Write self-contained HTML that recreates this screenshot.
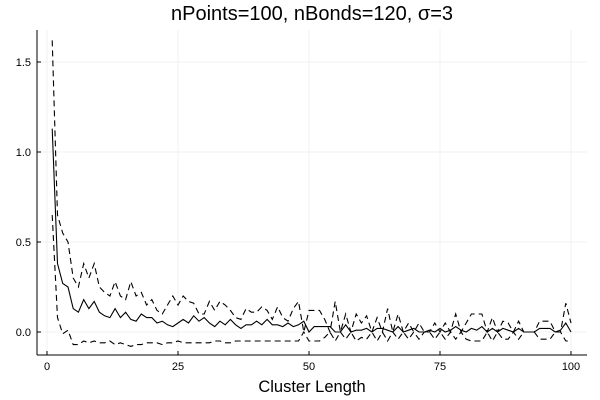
<!DOCTYPE html>
<html><head><meta charset="utf-8"><style>
body{margin:0;background:#fff;width:600px;height:400px;overflow:hidden}
svg{display:block;font-family:"Liberation Sans","DejaVu Sans",sans-serif}
</style></head><body>
<svg id="chart" width="600" height="400">
<text x="312" y="20" text-anchor="middle" font-size="20" fill="#000">nPoints=100, nBonds=120, σ=3</text>
<text x="312" y="392" text-anchor="middle" font-size="16.5" fill="#000">Cluster Length</text>
<g id="grid"></g><g id="axes"></g><g id="series"></g>
</svg>
<script>
const xTicks=[0,25,50,75,100];
const yTicks=[0,0.5,1.0,1.5];
const yTickLabels=["0.0","0.5","1.0","1.5"];
const meanVals=[1.13,0.38,0.27,0.25,0.13,0.11,0.18,0.13,0.17,0.11,0.09,0.08,0.13,0.08,0.11,0.07,0.06,0.10,0.08,0.08,0.05,0.06,0.04,0.03,0.05,0.07,0.05,0.09,0.06,0.08,0.05,0.03,0.06,0.04,0.07,0.04,0.02,0.04,0.04,0.06,0.04,0.07,0.04,0.04,0.03,0.05,0.03,0.04,0.06,0.0,0.03,0.03,0.03,0.03,0.0,0.0,0.04,0.0,0.01,0.01,0.02,0.0,0.02,0.02,0.01,0.0,0.03,0.0,0.01,0.02,0.0,0.0,0.01,0.0,0.02,0.0,0.01,0.03,0.01,0.0,0.02,0.01,0.03,0.0,0.02,0.0,0.02,0.01,0.0,0.02,0.0,0.0,0.0,0.02,0.02,0.02,0.0,0.01,0.05,0.0];
const upperVals=[1.62,0.65,0.55,0.50,0.30,0.25,0.38,0.30,0.38,0.25,0.22,0.20,0.28,0.20,0.18,0.28,0.20,0.22,0.15,0.18,0.12,0.10,0.15,0.20,0.15,0.20,0.17,0.16,0.10,0.10,0.17,0.12,0.17,0.15,0.12,0.08,0.07,0.13,0.11,0.11,0.14,0.12,0.07,0.14,0.08,0.06,0.13,0.17,0.0,0.12,0.12,0.12,0.07,0.0,0.17,0.0,0.10,0.0,0.10,0.05,0.09,0.0,0.08,0.0,0.13,0.0,0.10,0.0,0.05,0.0,0.05,0.0,0.0,0.05,0.0,0.05,0.0,0.10,0.0,0.05,0.10,0.10,0.10,0.0,0.08,0.0,0.06,0.05,0.0,0.06,0.0,0.0,0.0,0.06,0.06,0.06,0.0,0.0,0.16,0.05];
const lowerVals=[0.65,0.08,-0.01,0.01,-0.07,-0.07,-0.05,-0.06,-0.05,-0.06,-0.06,-0.05,-0.07,-0.06,-0.07,-0.08,-0.07,-0.07,-0.06,-0.06,-0.06,-0.07,-0.06,-0.06,-0.05,-0.06,-0.06,-0.06,-0.06,-0.06,-0.06,-0.05,-0.05,-0.06,-0.06,-0.05,-0.05,-0.05,-0.05,-0.05,-0.05,-0.05,-0.05,-0.05,-0.05,-0.05,-0.05,-0.05,0.0,-0.05,-0.05,-0.05,-0.03,0.0,-0.05,0.0,-0.04,0.0,-0.05,-0.03,-0.04,0.0,-0.05,0.0,-0.05,0.0,-0.04,0.0,-0.04,0.0,-0.04,0.0,0.0,-0.04,0.0,-0.04,0.0,-0.04,0.0,-0.04,-0.05,-0.05,-0.05,0.0,-0.05,0.0,-0.04,-0.04,0.0,-0.04,0.0,0.0,0.0,-0.04,-0.04,-0.04,0.0,0.0,-0.05,-0.05];
const NS="http://www.w3.org/2000/svg";
const L=37,R=587,T=30,B=355;
function xs(v){return 47+v*5.24;}
function ys(v){return 332-v*180;}
function mk(tag,attrs,parent){const e=document.createElementNS(NS,tag);for(const k in attrs)e.setAttribute(k,attrs[k]);parent.appendChild(e);return e;}
const grid=document.getElementById('grid'),axes=document.getElementById('axes'),ser=document.getElementById('series');
xTicks.forEach(t=>{
  const g=mk('line',{x1:xs(t),x2:xs(t),y1:T,y2:B,stroke:'#f0f0f0','stroke-width':1},grid);
  
  
  const tk=mk('line',{x1:xs(t),x2:xs(t),y1:B,y2:B-4,stroke:'#000'},axes);
  
  
  const tx=mk('text',{x:xs(t),y:370,'text-anchor':'middle','font-size':11},axes);
  tx.textContent=t;
  
  
});
yTicks.forEach((t,i)=>{
  const g=mk('line',{x1:L,x2:R,y1:ys(t),y2:ys(t),stroke:'#f0f0f0','stroke-width':1},grid);
  
  
  const tk=mk('line',{x1:L,x2:L+4,y1:ys(t),y2:ys(t),stroke:'#000'},axes);
  
  
  const tx=mk('text',{x:L-6,y:ys(t)+4,'text-anchor':'end','font-size':11},axes);
  tx.textContent=yTickLabels[i];
  
  
});
const xa=mk('line',{x1:L,x2:R,y1:B,y2:B,stroke:'#000'},axes);


const ya=mk('line',{x1:L,x2:L,y1:T,y2:B,stroke:'#000'},axes);


function line(vals,dash,name){
  const d=vals.map((v,i)=>(i?'L':'M')+xs(i+1).toFixed(1)+','+ys(v).toFixed(1)).join('');
  const p=mk('path',{d:d,fill:'none',stroke:'#000','stroke-width':1.1},ser);
  if(dash)p.setAttribute('stroke-dasharray','6,4');
  
  
}
line(upperVals,true,'upper-bound-line');
line(lowerVals,true,'lower-bound-line');
line(meanVals,false,'mean-line');
</script>
</body></html>
